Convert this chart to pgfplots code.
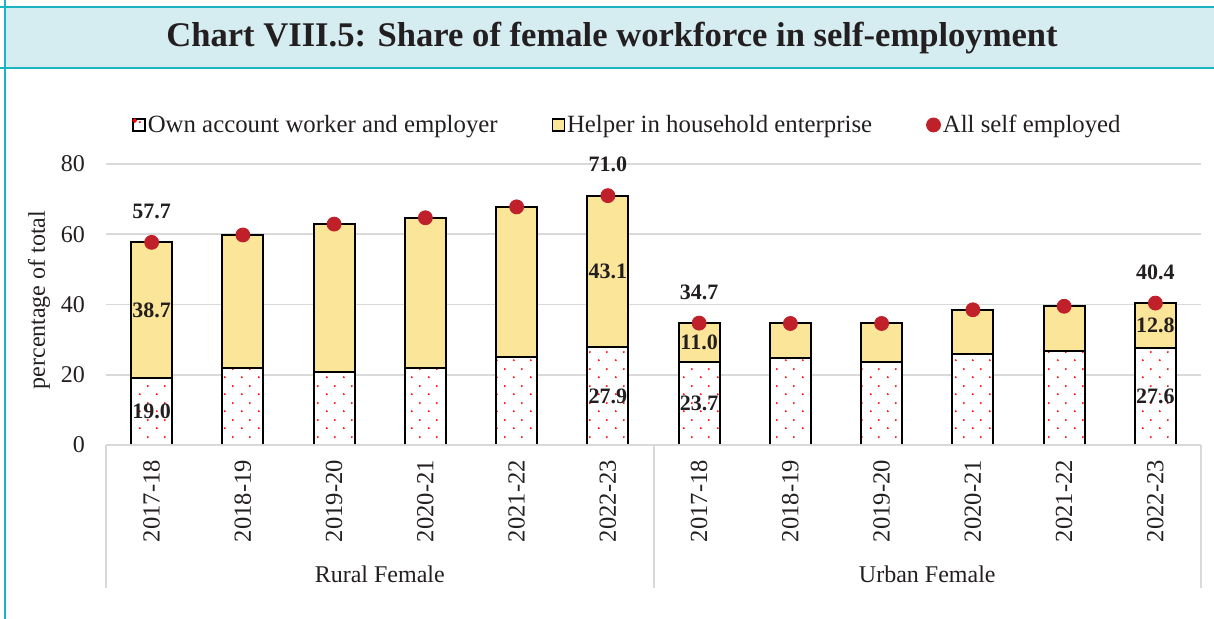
\documentclass[border=0pt]{standalone}
\usepackage{fontspec}
\setmainfont{Liberation Serif}
\usepackage{pgfplots}
\pgfplotsset{compat=1.18}
\usetikzlibrary{patterns.meta}
\definecolor{yel}{RGB}{251,229,153}
\definecolor{reddot}{RGB}{192,32,42}
\definecolor{teal1}{RGB}{26,181,192}
\definecolor{titlebg}{RGB}{213,236,240}
\definecolor{gridc}{RGB}{217,217,217}
\definecolor{txt}{RGB}{35,31,32}
\newcommand\tf{\fontsize{12}{14}\selectfont}
\newcommand\xf{\fontsize{12.3}{14}\selectfont}
\newcommand\legf{\fontsize{12.4}{14}\selectfont}
\newcommand\lf{\bfseries\fontsize{11}{13}\selectfont}

\tikzdeclarepattern{name=reddots, type=colored,
  tile size={(8.5pt,8.5pt)}, bottom left={(0pt,0pt)}, top right={(8.5pt,8.5pt)},
  code={\fill[red] (2pt,2pt) circle (0.55pt); \fill[red] (6.25pt,6.25pt) circle (0.55pt);}}

\pgfplotsset{myaxis/.style={
  scale only axis, width=547.5pt, height=140.5pt,
  at={(53pt,86.5pt)}, anchor=south west,
  xmin=-0.5, xmax=11.5, ymin=0, ymax=80, clip=false}}

\begin{document}
\begin{tikzpicture}
\begin{scope}[x=0.5pt,y=-0.5pt,shift={(0pt,309pt)}]
  \fill[titlebg] (5,7) rectangle (1220,68);
  \draw[teal1, line width=1.2pt] (0,7) -- (1220,7);
  \draw[teal1, line width=1.2pt] (0,68) -- (1220,68);
  \draw[teal1, line width=1.2pt] (5,0) -- (5,620);
  \node[font=\bfseries\fontsize{17.3}{19}\selectfont, text=txt] at (612,38) {Chart VIII.5: Share of female workforce in self-employment};
\end{scope}

\begin{axis}[myaxis, ybar stacked, bar width=20.5pt,
  axis line style={draw=none}, tick style={draw=none},
  xtick={0,...,11},
  xticklabels={2017-18,2018-19,2019-20,2020-21,2021-22,2022-23,2017-18,2018-19,2019-20,2020-21,2021-22,2022-23},
  xticklabel style={rotate=90, anchor=east, font=\xf, text=txt, xshift=-4pt},
  ytick={0,20,...,80},
  yticklabel style={font=\tf, text=txt, xshift=-7pt},
  /pgf/number format/assume math mode=true,
  ymajorgrids, grid style={gridc, line width=0.9pt},
  ylabel={percentage of total},
  every axis y label/.style={at={(axis description cs:-0.0612,0.516)}, rotate=90, anchor=center, font=\tf, text=txt},
  legend columns=3,
  legend style={draw=none, fill=none, at={(axis description cs:0.0183,1.139)}, anchor=west,
    font=\legf, text=txt, /tikz/every even column/.append style={column sep=25pt},
    /tikz/every odd column/.append style={column sep=-1pt}},
  legend cell align=left,
]
\addplot[fill=white, draw=black, line width=1pt, postaction={pattern=reddots},
  legend image code/.code={\draw[fill=white, draw=black, line width=0.7pt] (0pt,-3pt) rectangle (6pt,3pt); \fill[red] (0.8pt,2.2pt) circle (0.4pt);}]
  coordinates {(0,19.0) (1,21.8) (2,20.8) (3,21.9) (4,25.0) (5,27.9)
               (6,23.7) (7,24.9) (8,23.6) (9,26.0) (10,26.8) (11,27.6)};
\addlegendentry{Own account worker and employer}
\addplot[fill=yel, draw=black, line width=1pt,
  legend image code/.code={\draw[fill=yel, draw=black, line width=0.7pt] (0pt,-3pt) rectangle (6pt,3pt);}]
  coordinates {(0,38.7) (1,38.0) (2,42.1) (3,42.8) (4,42.8) (5,43.1)
               (6,11.0) (7,9.7) (8,11.0) (9,12.5) (10,12.7) (11,12.8)};
\addlegendentry{Helper in household enterprise}
\addlegendimage{legend image code/.code={\fill[reddot] (3pt,0pt) circle (3.5pt);}}
\addlegendentry{All self employed}
\end{axis}

\begin{axis}[myaxis, hide axis]
\draw[gridc, line width=1pt] (axis cs:-0.5,0) -- (axis cs:11.5,0);
\draw[gridc, line width=1pt] (axis cs:-0.5,0) -- ++(0pt,-71.5pt);
\draw[gridc, line width=1pt] (axis cs:5.5,0) -- ++(0pt,-71.5pt);
\draw[gridc, line width=1pt] (axis cs:11.5,0) -- ++(0pt,-71.5pt);
\node[font=\tf, text=txt] at (axis cs:2.5,0) [yshift=-64.5pt] {Rural Female};
\node[font=\tf, text=txt] at (axis cs:8.5,0) [yshift=-64.5pt] {Urban Female};
\addplot[only marks, mark=*, mark size=3.5pt, color=reddot,
  nodes near coords, point meta=explicit symbolic,
  every node near coord/.style={font=\lf, text=txt, anchor=center, yshift=15.5pt}]
  coordinates {(0,57.7)[57.7] (1,59.8)[] (2,62.9)[] (3,64.7)[] (4,67.8)[] (5,71.0)[71.0]
               (6,34.7)[34.7] (7,34.6)[] (8,34.6)[] (9,38.5)[] (10,39.5)[] (11,40.4)[40.4]};
\addplot[draw=none, mark=none, nodes near coords, point meta=explicit symbolic,
  every node near coord/.style={font=\lf, text=txt, anchor=center}]
  coordinates {(0,9.5)[19.0] (0,38.35)[38.7] (5,13.95)[27.9] (5,49.45)[43.1]
               (6,11.85)[23.7] (6,29.2)[11.0] (11,13.8)[27.6] (11,34.0)[12.8]};
\end{axis}
\pgfresetboundingbox
\useasboundingbox (0,0) rectangle (607pt,309pt);
\end{tikzpicture}
\end{document}
